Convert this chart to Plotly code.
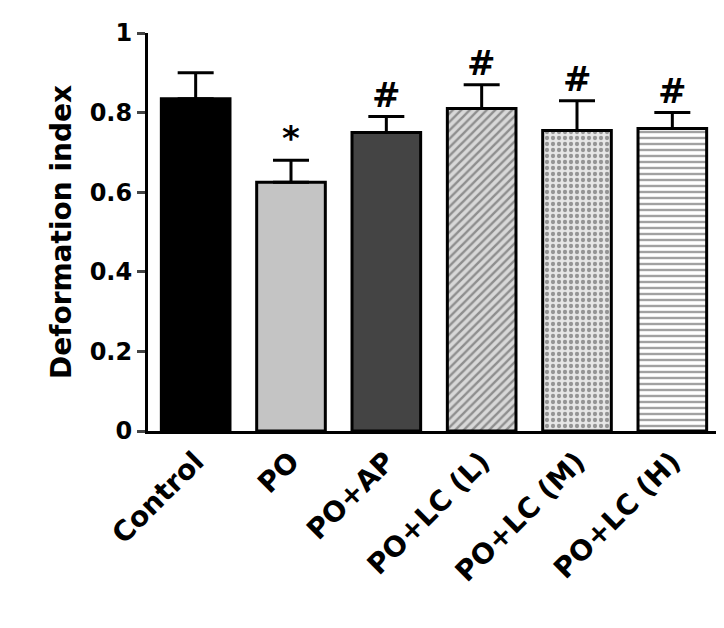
import plotly.graph_objects as go

categories = ["Control", "PO", "PO+AP", "PO+LC (L)", "PO+LC (M)", "PO+LC (H)"]
values = [0.835, 0.625, 0.75, 0.81, 0.755, 0.76]
errors = [0.065, 0.055, 0.04, 0.06, 0.075, 0.04]
marks = ["", "*", "#", "#", "#", "#"]

colors = ["#000000", "#c4c4c4", "#444444", "#d8d8d8", "#e6e6e6", "#ffffff"]
shapes = ["", "", "", "/", ".", "-"]
fgcolors = ["#000", "#000", "#000", "#333", "#555", "#333"]

fig = go.Figure()
fig.add_trace(go.Bar(
    x=categories, y=values,
    marker=dict(color=colors, line=dict(color="black", width=3),
                pattern=dict(shape=shapes, fgcolor=fgcolors, size=6, solidity=0.4)),
    error_y=dict(type="data", array=errors, symmetric=False, arrayminus=[0]*6,
                 color="black", thickness=3, width=18),
    width=0.72,
))
for c, v, e, m in zip(categories, values, errors, marks):
    if m:
        fig.add_annotation(x=c, y=v + e, text=f"<b>{m}</b>", showarrow=False,
                           yanchor="bottom", yshift=0, font=dict(size=34, color="black"))

fam = "DejaVu Sans"
fig.update_layout(
    width=724, height=628, margin=dict(l=140, r=12, t=25, b=205, autoexpand=False),
    plot_bgcolor="white", paper_bgcolor="white", showlegend=False,
    font=dict(family=fam, size=24, color="black"), bargap=0.28,
)
fig.update_xaxes(tickangle=-45, showline=True, linecolor="black", linewidth=3,
                 ticks="", tickfont=dict(size=28, family=fam), automargin=False,
                 tickprefix="<b>", ticksuffix="</b>")
fig.update_yaxes(range=[0, 1], dtick=0.2, showline=True, linecolor="black", linewidth=3,
                 ticks="outside", ticklen=8, tickwidth=3, showgrid=False, zeroline=False,
                 tickprefix="<b>", ticksuffix="</b>", tickformat="~g", automargin=False,
                 tickfont=dict(size=24, family=fam),
                 title=dict(text="<b>Deformation index</b>", font=dict(size=28), standoff=10))
fig.write_html("out.html")
